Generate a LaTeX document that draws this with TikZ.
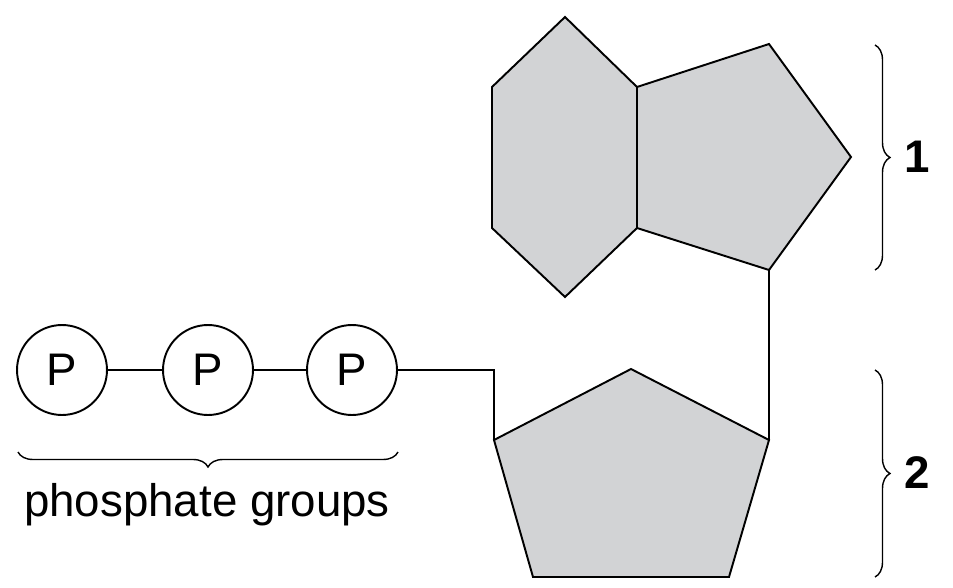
\documentclass[tikz,border=0pt]{standalone}
\usepackage{fontspec}
\setmainfont{Liberation Sans}
\usetikzlibrary{decorations.pathreplacing}
\definecolor{ringgray}{RGB}{210,211,213}
\tikzset{
  ring/.style={draw, fill=ringgray, line width=1.1pt, line join=miter},
  phos/.style={draw, circle, line width=1.1pt, minimum size=1.8cm, inner sep=0pt, font=\fontsize{26}{30}\selectfont},
  bond/.style={line width=1.1pt},
  grp/.style={decorate, decoration={brace, amplitude=0.3cm}, line width=0.8pt}
}
\begin{document}
\begin{tikzpicture}[x=0.02cm, y=-0.02cm]
  \useasboundingbox (0,0) rectangle (953,588);

  % rings
  \draw [ring] (565,17) -- (637,87) -- (637,228) -- (565,297) -- (492,228) -- (492,87) -- cycle;
  \draw [ring] (637,87) -- (769,44) -- (851,157) -- (769,270) -- (637,228) -- cycle;
  \draw [ring] (631,369) -- (769,440) -- (729,577) -- (533,577) -- (494,440) -- cycle;
  \draw [bond] (769,270) -- (769,440);

  % phosphates
  \node [phos] (p1) at (62,370) {P};
  \node [phos] (p2) at (208,370) {P};
  \node [phos] (p3) at (352,370) {P};
  \coordinate (c1) at (494,440);
  \draw [bond] (p1) -- (p2);
  \draw [bond] (p2) -- (p3);
  \draw [bond] (p3.east) -- (494,370) -- (c1);

  % braces
  \draw [grp] (398,452) -- (18,452);
  \node [font=\fontsize{26}{30}\selectfont] (lp) at (207,505) {phosphate groups};
  \draw [grp] (875,45) -- (875,270);
  \node [font=\bfseries\fontsize{26}{30}\selectfont] (l1) at (917,157) {1};
  \draw [grp] (875,370) -- (875,577);
  \node [font=\bfseries\fontsize{26}{30}\selectfont] (l2) at (917,473) {2};
\end{tikzpicture}
\end{document}
